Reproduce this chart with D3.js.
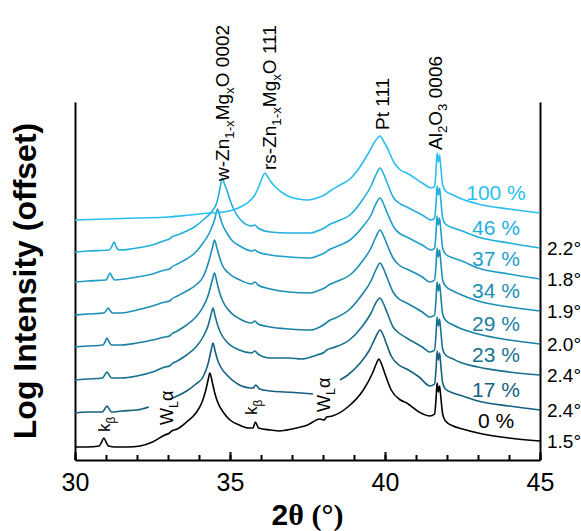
<!DOCTYPE html>
<html>
<head>
<meta charset="utf-8">
<script src="https://cdn.jsdelivr.net/npm/d3@7"></script>
<style>
body { margin: 0; background: #fff; }
svg { font-family: "Liberation Sans", Arial, sans-serif; }
</style>
</head>
<body>
<svg id="chart" width="581" height="531"></svg>
<script>
// sample labels (Mg content), bottom curve first
const sample_labels = ["0 %", "17 %", "23 %", "29 %", "34 %", "37 %", "46 %", "100 %"]
// rocking curve widths written on the right
const tilt_labels = ["1.5°", "2.4°", "2.4°", "2.0°", "1.9°", "1.8°", "2.2°", ""]
// vertical offset of each scan (log units)
const offsets = [0.13, 0.47, 0.80, 1.13, 1.45, 1.78, 2.08, 2.40]
const x_ticks_major = [30, 35, 40, 45]

// scans: [2theta, log intensity above the scan's own offset], null = gap
const scan_0 = [[30.0,0.00],[30.4,0.00],[30.78,0.01],[30.86,0.05],[30.93,0.09],[31.0,0.05],[31.08,0.01],[31.3,0.00],[31.7,0.00],[32.1,0.01],[32.5,0.05],[32.9,0.12],[33.05,0.14],[33.12,0.16],[33.3,0.18],[33.6,0.25],[33.9,0.34],[34.1,0.45],[34.22,0.57],[34.3,0.68],[34.35,0.74],[34.42,0.66],[34.5,0.55],[34.6,0.45],[34.8,0.34],[35.0,0.27],[35.3,0.22],[35.6,0.19],[35.74,0.19],[35.82,0.25],[35.92,0.19],[36.3,0.17],[36.6,0.16],[37.0,0.18],[37.5,0.22],[37.9,0.28],[38.03,0.27],[38.12,0.30],[38.3,0.31],[38.8,0.40],[39.3,0.57],[39.6,0.74],[39.73,0.84],[39.8,0.88],[39.9,0.82],[40.0,0.73],[40.2,0.57],[40.5,0.47],[40.7,0.44],[41.1,0.35],[41.45,0.31],[41.6,0.33],[41.65,0.50],[41.68,0.64],[41.72,0.55],[41.76,0.61],[41.8,0.50],[41.86,0.33],[41.95,0.26],[42.2,0.21],[42.5,0.18],[43.0,0.14],[44.0,0.09],[45.0,0.06]]
const scan_17 = [[30.0,0.00],[30.4,0.01],[30.88,0.01],[30.96,0.04],[31.03,0.07],[31.1,0.04],[31.18,0.01],[31.5,0.02],[32.0,0.03],[32.38,0.06],[32.7,null],[33.08,0.14],[33.3,0.17],[33.6,0.22],[33.9,0.29],[34.13,0.36],[34.3,0.50],[34.4,0.64],[34.45,0.70],[34.52,0.62],[34.6,0.53],[34.7,0.46],[34.9,0.38],[35.3,0.28],[35.65,0.25],[35.75,0.25],[35.83,0.28],[35.95,0.24],[36.3,0.22],[36.8,0.21],[37.3,0.20],[37.68,0.19],[38.1,null],[38.55,0.33],[38.8,0.38],[39.2,0.50],[39.5,0.63],[39.7,0.76],[39.84,0.83],[39.94,0.78],[40.06,0.68],[40.2,0.57],[40.45,0.48],[40.7,0.44],[41.1,0.36],[41.45,0.27],[41.6,0.29],[41.65,0.46],[41.68,0.62],[41.72,0.53],[41.76,0.60],[41.8,0.48],[41.86,0.30],[41.95,0.24],[42.2,0.20],[42.5,0.17],[43.0,0.12],[44.0,0.07],[45.0,0.03]]
const scan_23 = [[30.0,0.00],[30.4,0.01],[30.88,0.02],[30.96,0.05],[31.03,0.08],[31.1,0.05],[31.18,0.02],[31.5,0.02],[32.0,0.04],[32.5,0.08],[32.9,0.13],[33.05,0.14],[33.12,0.16],[33.3,0.19],[33.6,0.25],[33.9,0.33],[34.13,0.43],[34.3,0.55],[34.4,0.67],[34.45,0.72],[34.52,0.64],[34.6,0.55],[34.7,0.47],[34.9,0.38],[35.3,0.30],[35.7,0.27],[35.8,0.29],[35.9,0.26],[36.3,0.22],[36.9,0.22],[37.3,0.21],[37.8,0.25],[38.05,0.28],[38.12,0.30],[38.3,0.32],[38.85,0.40],[39.25,0.53],[39.55,0.67],[39.72,0.78],[39.84,0.82],[39.94,0.77],[40.06,0.68],[40.26,0.53],[40.45,0.47],[40.7,0.42],[41.2,0.33],[41.45,0.28],[41.6,0.30],[41.65,0.48],[41.68,0.63],[41.72,0.54],[41.76,0.61],[41.8,0.49],[41.86,0.31],[41.95,0.25],[42.2,0.21],[42.4,0.18],[43.0,0.13],[44.0,0.08],[45.0,0.05]]
const scan_29 = [[30.0,0.00],[30.4,0.01],[30.9,0.02],[30.97,0.05],[31.03,0.09],[31.1,0.05],[31.18,0.02],[31.5,0.02],[32.0,0.04],[32.5,0.07],[32.9,0.10],[33.05,0.11],[33.12,0.13],[33.3,0.16],[33.6,0.22],[33.9,0.30],[34.13,0.40],[34.3,0.52],[34.43,0.67],[34.5,0.74],[34.57,0.66],[34.65,0.56],[34.75,0.47],[34.95,0.37],[35.32,0.28],[35.7,0.24],[35.8,0.26],[35.9,0.23],[36.3,0.20],[36.9,0.18],[37.6,0.17],[37.9,0.20],[38.1,0.24],[38.18,0.26],[38.4,0.29],[38.87,0.38],[39.25,0.52],[39.55,0.66],[39.72,0.78],[39.84,0.84],[39.94,0.79],[40.06,0.70],[40.26,0.55],[40.45,0.48],[40.7,0.44],[41.2,0.35],[41.45,0.30],[41.6,0.32],[41.65,0.50],[41.68,0.65],[41.72,0.56],[41.76,0.63],[41.8,0.51],[41.86,0.33],[41.95,0.27],[42.2,0.22],[42.4,0.19],[43.0,0.13],[44.0,0.07],[45.0,0.03]]
const scan_34 = [[30.0,0.00],[30.4,0.01],[30.93,0.02],[31.0,0.04],[31.07,0.07],[31.14,0.04],[31.22,0.02],[31.5,0.02],[32.0,0.05],[32.5,0.09],[32.9,0.13],[33.05,0.14],[33.12,0.16],[33.3,0.19],[33.6,0.24],[33.9,0.30],[34.13,0.38],[34.3,0.52],[34.43,0.67],[34.5,0.75],[34.57,0.68],[34.65,0.59],[34.75,0.50],[34.95,0.42],[35.32,0.35],[35.7,0.31],[35.8,0.33],[35.9,0.30],[36.3,0.26],[36.9,0.23],[37.6,0.22],[37.9,0.25],[38.1,0.28],[38.18,0.30],[38.4,0.33],[38.87,0.40],[39.25,0.53],[39.55,0.67],[39.72,0.79],[39.84,0.85],[39.94,0.80],[40.06,0.71],[40.26,0.57],[40.45,0.50],[40.7,0.46],[41.2,0.38],[41.45,0.33],[41.6,0.35],[41.65,0.52],[41.68,0.67],[41.72,0.58],[41.76,0.65],[41.8,0.53],[41.86,0.35],[41.95,0.29],[42.2,0.24],[42.4,0.21],[43.0,0.14],[44.0,0.08],[45.0,0.04]]
const scan_37 = [[30.0,0.00],[30.4,0.01],[31.0,0.02],[31.06,0.05],[31.13,0.09],[31.2,0.05],[31.28,0.02],[31.6,0.03],[32.0,0.05],[32.5,0.08],[32.9,0.12],[33.05,0.13],[33.12,0.15],[33.3,0.18],[33.6,0.23],[33.9,0.30],[34.13,0.39],[34.35,0.50],[34.5,0.62],[34.6,0.73],[34.67,0.66],[34.75,0.58],[34.9,0.49],[35.05,0.42],[35.32,0.36],[35.7,0.31],[35.8,0.32],[35.9,0.30],[36.3,0.27],[36.94,0.25],[37.6,0.24],[37.9,0.27],[38.1,0.30],[38.18,0.32],[38.4,0.35],[38.87,0.42],[39.25,0.54],[39.55,0.67],[39.72,0.79],[39.84,0.84],[39.94,0.79],[40.06,0.70],[40.3,0.54],[40.5,0.48],[40.7,0.45],[41.2,0.37],[41.5,0.32],[41.6,0.34],[41.65,0.51],[41.68,0.66],[41.72,0.57],[41.76,0.64],[41.8,0.52],[41.86,0.34],[41.95,0.28],[42.2,0.24],[42.4,0.22],[43.0,0.14],[44.0,0.08],[45.0,0.03]]
const scan_46 = [[30.0,0.00],[30.4,0.01],[31.1,0.02],[31.18,0.05],[31.26,0.10],[31.33,0.05],[31.42,0.02],[31.8,0.03],[32.2,0.05],[32.6,0.08],[32.95,0.12],[33.05,0.13],[33.12,0.15],[33.3,0.17],[33.6,0.21],[33.9,0.26],[34.13,0.32],[34.4,0.40],[34.58,0.50],[34.68,0.64],[34.75,0.74],[34.82,0.68],[34.9,0.62],[35.0,0.52],[35.15,0.41],[35.32,0.33],[35.7,0.26],[35.8,0.27],[35.9,0.24],[36.3,0.20],[36.9,0.19],[37.6,0.19],[37.9,0.22],[38.1,0.25],[38.18,0.27],[38.4,0.30],[38.87,0.37],[39.25,0.51],[39.55,0.66],[39.72,0.78],[39.84,0.84],[39.94,0.79],[40.06,0.70],[40.26,0.55],[40.5,0.48],[40.7,0.45],[41.2,0.37],[41.5,0.32],[41.6,0.34],[41.65,0.51],[41.68,0.66],[41.72,0.57],[41.76,0.64],[41.8,0.52],[41.86,0.34],[41.95,0.28],[42.2,0.24],[42.4,0.22],[43.0,0.15],[44.0,0.09],[45.0,0.04]]
const scan_100 = [[30.0,0.00],[31.0,0.01],[32.0,0.02],[33.0,0.03],[33.7,0.05],[34.35,0.07],[34.8,0.08],[35.1,0.10],[35.4,0.14],[35.6,0.18],[35.8,0.25],[35.95,0.35],[36.05,0.43],[36.13,0.47],[36.2,0.44],[36.3,0.39],[36.5,0.32],[36.7,0.27],[36.94,0.23],[37.2,0.21],[37.5,0.20],[37.9,0.23],[38.1,0.26],[38.18,0.28],[38.55,0.35],[38.87,0.41],[39.19,0.53],[39.45,0.66],[39.65,0.77],[39.84,0.84],[39.95,0.79],[40.06,0.73],[40.3,0.57],[40.5,0.50],[40.7,0.47],[41.2,0.37],[41.5,0.32],[41.6,0.34],[41.65,0.52],[41.68,0.67],[41.72,0.58],[41.76,0.65],[41.8,0.53],[41.86,0.35],[41.95,0.29],[42.2,0.25],[42.4,0.22],[43.0,0.16],[44.0,0.11],[45.0,0.07]]
const scans = [scan_0, scan_17, scan_23, scan_29, scan_34, scan_37, scan_46, scan_100]

const colors = ["#000000", "#14607e", "#17708f", "#1a80a3", "#1c8fb6", "#1f9ec8", "#22afdc", "#29bff0"]

const svg = d3.select("#chart")
const plot = { left: 75, right: 540, top: 102, bottom: 460 }

const xScale = d3.scaleLinear().domain([30, 45]).range([plot.left, plot.right])
const yScale = d3.scaleLinear().domain([0, 3.58]).range([plot.bottom, plot.top])

// axes: bottom with inward ticks, plain left/right lines
svg.append("g")
    .attr("transform", `translate(0,${plot.bottom})`)
    .call(d3.axisBottom(xScale).tickValues(d3.range(30, 46, 1)).tickSize(-5).tickSizeOuter(0).tickFormat(""))
    .call(g => g.select(".domain").remove())
    .selectAll("line").attr("stroke-width", 2)

const xAxis = svg.append("g")
    .attr("transform", `translate(0,${plot.bottom})`)
    .call(d3.axisBottom(xScale).tickValues(x_ticks_major).tickSize(-8).tickSizeOuter(0).tickPadding(13).tickFormat(d3.format("d")))
xAxis.select(".domain").attr("stroke-width", 2)
xAxis.selectAll("line").attr("stroke-width", 2)
xAxis.selectAll("text").attr("font-size", 25).attr("fill", "#000").attr("font-family", "Liberation Sans, Arial, sans-serif")

svg.append("g")
    .attr("transform", `translate(${plot.left},0)`)
    .call(d3.axisLeft(yScale).tickValues([]).tickSizeOuter(0))
    .select(".domain").attr("stroke-width", 2)
svg.append("g")
    .attr("transform", `translate(${plot.right},0)`)
    .call(d3.axisRight(yScale).tickValues([]).tickSizeOuter(0))
    .select(".domain").attr("stroke-width", 2)

// axis titles
svg.append("text")
    .attr("transform", `translate(36,${(plot.top + plot.bottom) / 2}) rotate(-90)`)
    .attr("text-anchor", "middle")
    .attr("font-size", 32)
    .attr("font-weight", "bold")
    .text("Log Intensity (offset)")

const xTitle = svg.append("text")
    .attr("x", (plot.left + plot.right) / 2)
    .attr("y", 525)
    .attr("text-anchor", "middle")
    .attr("font-size", 30)
    .attr("font-weight", "bold")
xTitle.append("tspan").text("2")
xTitle.append("tspan").attr("font-family", "Liberation Serif, Times New Roman, serif").text("θ (°)")

// scans
const line = d3.line()
    .defined(d => d[1] !== null)
    .x(d => xScale(d[0]))
    .y(d => yScale(d[2]))
    .curve(d3.curveMonotoneX)

scans.forEach((scan, i) => {
    const pts = scan.map(d => [d[0], d[1], d[1] === null ? null : d[1] + offsets[i]])
    svg.append("path")
        .datum(pts)
        .attr("fill", "none")
        .attr("stroke", colors[i])
        .attr("stroke-width", 1.6)
        .attr("stroke-linejoin", "round")
        .attr("d", line)

    const last = scan[scan.length - 1]
    const yEnd = yScale(last[1] + offsets[i])
    svg.append("text")
        .attr("x", 496)
        .attr("y", yEnd - 13)
        .attr("text-anchor", "middle")
        .attr("font-size", 21)
        .attr("fill", colors[i])
        .text(sample_labels[i])
    if (tilt_labels[i]) {
        svg.append("text")
            .attr("x", plot.right + 7)
            .attr("y", yEnd)
            .attr("dy", "0.35em")
            .attr("font-size", 19)
            .attr("fill", "#000")
            .text(tilt_labels[i])
    }
})

// rotated labels with subscripts; parts: [text, isSub]
function richLabel(x, y, size, parts) {
    const t = svg.append("text")
        .attr("transform", `translate(${x},${y}) rotate(-90)`)
        .attr("font-size", size)
        .attr("fill", "#000")
    let shifted = false
    parts.forEach(p => {
        const ts = t.append("tspan").text(p[0])
        if (p[1] && !shifted) { ts.attr("dy", size * 0.28).attr("font-size", size * 0.7); shifted = true }
        else if (p[1]) { ts.attr("font-size", size * 0.7) }
        else if (shifted) { ts.attr("dy", -size * 0.28); shifted = false }
    })
}

richLabel(229, 181, 19, [["w-Zn", 0], ["1-x", 1], ["Mg", 0], ["x", 1], ["O 0002", 0]])
richLabel(276, 170, 19, [["rs-Zn", 0], ["1-x", 1], ["Mg", 0], ["x", 1], ["O 111", 0]])
richLabel(389, 130, 19, [["Pt 111", 0]])
richLabel(442, 150, 19, [["Al", 0], ["2", 1], ["O", 0], ["3", 1], [" 0006", 0]])
richLabel(110, 432, 17, [["k", 0], ["β", 1]])
richLabel(257, 415, 17, [["k", 0], ["β", 1]])
richLabel(173, 425, 18, [["W", 0], ["L", 1], ["α", 0]])
richLabel(330, 412, 18, [["W", 0], ["L", 1], ["α", 0]])
</script>
</body>
</html>
